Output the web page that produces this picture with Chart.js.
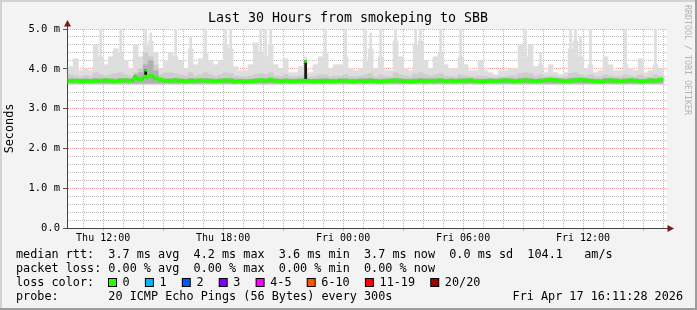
<!DOCTYPE html>
<html>
<head>
<meta charset="utf-8">
<title>Last 30 Hours from smokeping to SBB</title>
<script src="https://cdn.jsdelivr.net/npm/chart.js@4.4.1/dist/chart.umd.min.js"></script>
<style>
  html, body { margin: 0; padding: 0; background: #f3f3f3; }
  canvas { display: block; }
</style>
</head>
<body>
<canvas id="smokeChart" width="697" height="310"></canvas>
<script>
// time axis: hours since Thu 00:00, one bin per 15 minutes
const startHour = 10.25;
const binHours = 0.25;
const hourTicks = { 12: 'Thu 12:00', 18: 'Thu 18:00', 24: 'Fri 00:00', 30: 'Fri 06:00', 36: 'Fri 12:00' };
const yLabels = { 0: '0.0', 1: '1.0 m', 2: '2.0 m', 3: '3.0 m', 4: '4.0 m', 5: '5.0 m' };

// slowest ping of each bin (thin spikes), ms
const maxPing = [
  4.05, 4.25, 3.95, 4.0, 3.95, 4.6, 5.0, 4.1, 4.3, 4.5,
  5.0, 4.2, 4.0, 4.6, 4.3, 5.0, 4.9, 4.4, 4.0, 4.2,
  4.4, 5.0, 4.2, 4.0, 4.8, 4.1, 4.25, 5.0, 4.2, 4.1,
  4.2, 5.0, 5.0, 4.05, 3.95, 3.95, 4.1, 4.65, 5.0, 5.0,
  5.0, 4.1, 4.0, 4.25, 3.9, 3.9, 4.05, 4.3, 3.9, 4.1,
  4.3, 5.0, 4.0, 4.1, 4.1, 5.0, 4.0, 3.95, 4.0, 5.0,
  4.9, 4.0, 5.0, 3.95, 3.95, 5.0, 4.3, 4.0, 3.95, 5.0,
  5.0, 4.2, 4.0, 4.3, 5.0, 4.1, 4.0, 4.0, 5.0, 4.1,
  3.95, 3.95, 4.2, 3.95, 3.9, 3.85, 3.95, 3.95, 4.0, 4.0,
  4.6, 5.0, 4.6, 4.05, 4.4, 3.9, 4.1, 3.9, 3.85, 3.9,
  5.0, 5.0, 4.8, 4.0, 5.0, 3.9, 3.95, 4.3, 4.1, 3.95,
  3.95, 5.0, 4.0, 3.95, 4.25, 3.9, 3.95, 5.0, 4.0
];
// broad light smoke
const upperPing = [
  4.05, 4.25, 3.95, 4.0, 3.95, 4.6, 4.3, 4.1, 4.3, 4.5,
  4.4, 4.2, 4.0, 4.6, 4.3, 4.6, 4.7, 4.4, 4.0, 4.2,
  4.4, 4.3, 4.2, 4.0, 4.5, 4.1, 4.25, 4.4, 4.2, 4.1,
  4.2, 4.6, 4.5, 4.05, 3.95, 3.95, 4.1, 4.65, 4.4, 4.3,
  4.6, 4.1, 4.0, 4.25, 3.9, 3.9, 4.05, 4.0, 3.9, 4.1,
  4.3, 4.4, 4.0, 4.1, 4.1, 4.3, 4.0, 3.95, 4.0, 4.2,
  4.5, 4.0, 4.3, 3.95, 3.95, 4.7, 4.3, 4.0, 3.95, 4.6,
  4.7, 4.2, 4.0, 4.3, 4.4, 4.1, 4.0, 4.0, 4.3, 4.1,
  3.95, 3.95, 4.2, 3.95, 3.9, 3.85, 3.95, 3.95, 4.0, 4.0,
  4.6, 4.3, 4.6, 4.05, 4.1, 3.9, 4.1, 3.9, 3.85, 3.9,
  4.5, 4.7, 4.3, 4.0, 4.1, 3.9, 3.95, 4.3, 4.1, 3.95,
  3.95, 4.1, 4.0, 3.95, 4.25, 3.9, 3.95, 4.1, 4.0
];
// middle smoke
const midPing = [
  3.85, 3.82, 3.8, 3.83, 3.8, 3.9, 3.85, 3.82, 3.85, 3.88,
  3.9, 3.85, 3.82, 3.9, 4.0, 4.4, 4.3, 4.1, 3.85, 3.9,
  3.9, 3.88, 3.85, 3.82, 3.9, 3.82, 3.85, 3.9, 3.85, 3.82,
  3.85, 3.9, 3.88, 3.82, 3.8, 3.8, 3.82, 3.85, 3.88, 3.85,
  3.9, 3.82, 3.8, 3.85, 3.8, 3.8, 3.82, 3.85, 3.8, 3.82,
  3.85, 3.85, 3.8, 3.82, 3.82, 3.85, 3.8, 3.8, 3.82, 3.85,
  3.88, 3.8, 3.85, 3.8, 3.8, 3.9, 3.85, 3.82, 3.8, 3.88,
  3.9, 3.85, 3.82, 3.85, 3.88, 3.82, 3.8, 3.8, 3.85, 3.82,
  3.8, 3.8, 3.82, 3.8, 3.78, 3.78, 3.8, 3.8, 3.82, 3.82,
  3.88, 3.9, 3.88, 3.82, 3.85, 3.8, 3.82, 3.8, 3.78, 3.8,
  3.88, 3.9, 3.85, 3.82, 3.85, 3.8, 3.8, 3.85, 3.82, 3.8,
  3.8, 3.85, 3.82, 3.8, 3.85, 3.8, 3.8, 3.85, 3.82
];
// dark smoke next to the median
const darkPing = [
  3.75, 3.74, 3.74, 3.75, 3.74, 3.76, 3.75, 3.76, 3.75, 3.74,
  3.76, 3.76, 3.75, 3.82, 3.9, 4.1, 4.2, 3.95, 3.78, 3.75,
  3.75, 3.76, 3.75, 3.74, 3.76, 3.74, 3.75, 3.76, 3.75, 3.74,
  3.75, 3.76, 3.76, 3.74, 3.74, 3.73, 3.74, 3.75, 3.76, 3.75,
  3.77, 3.75, 3.74, 3.75, 3.74, 3.74, 3.75, 3.76, 3.74, 3.74,
  3.75, 3.75, 3.74, 3.74, 3.75, 3.75, 3.74, 3.74, 3.75, 3.75,
  3.76, 3.74, 3.74, 3.74, 3.75, 3.76, 3.75, 3.74, 3.74, 3.75,
  3.76, 3.75, 3.75, 3.75, 3.76, 3.74, 3.75, 3.74, 3.75, 3.75,
  3.76, 3.74, 3.74, 3.74, 3.75, 3.74, 3.75, 3.76, 3.75, 3.74,
  3.76, 3.77, 3.76, 3.74, 3.75, 3.76, 3.77, 3.76, 3.75, 3.74,
  3.76, 3.77, 3.77, 3.76, 3.75, 3.74, 3.74, 3.76, 3.76, 3.75,
  3.74, 3.75, 3.76, 3.75, 3.74, 3.74, 3.76, 3.75, 3.77
];
const medianRtt = [
  3.70, 3.70, 3.69, 3.70, 3.69, 3.70, 3.70, 3.71, 3.70, 3.69,
  3.70, 3.71, 3.70, 3.76, 3.74, 3.80, 3.82, 3.76, 3.72, 3.70,
  3.70, 3.71, 3.70, 3.69, 3.70, 3.70, 3.71, 3.70, 3.70, 3.69,
  3.70, 3.71, 3.70, 3.68, 3.69, 3.68, 3.69, 3.70, 3.71, 3.70,
  3.72, 3.70, 3.69, 3.70, 3.69, 3.69, 3.70, 3.70, 3.69, 3.69,
  3.69, 3.70, 3.69, 3.69, 3.70, 3.70, 3.69, 3.69, 3.70, 3.69,
  3.70, 3.69, 3.68, 3.69, 3.70, 3.71, 3.70, 3.69, 3.68, 3.69,
  3.70, 3.69, 3.70, 3.70, 3.71, 3.69, 3.70, 3.69, 3.70, 3.70,
  3.71, 3.69, 3.68, 3.69, 3.70, 3.69, 3.70, 3.71, 3.70, 3.69,
  3.70, 3.71, 3.70, 3.69, 3.70, 3.71, 3.72, 3.71, 3.70, 3.69,
  3.70, 3.71, 3.72, 3.71, 3.70, 3.69, 3.68, 3.70, 3.71, 3.70,
  3.69, 3.70, 3.71, 3.70, 3.68, 3.69, 3.71, 3.70, 3.72
];
// single 5-minute median peaks inside a bin
const peakBins = [13, 15, 47];
const peakValues = [3.84, 3.98, 4.2];
const smokeFloor = 3.62;

// legend texts
const titleText = 'Last 30 Hours from smokeping to SBB';
const rttLine = 'median rtt:  3.7 ms avg  4.2 ms max  3.6 ms min  3.7 ms now  0.0 ms sd  104.1   am/s';
const lossLine = 'packet loss: 0.00 % avg  0.00 % max  0.00 % min  0.00 % now';
const probeLine = 'probe:       20 ICMP Echo Pings (56 Bytes) every 300s';
const stampText = 'Fri Apr 17 16:11:28 2026';
const lossLabels = ['0', '1', '2', '3', '4-5', '6-10', '11-19', '20/20'];
const lossColors = ['#26ff00', '#00b8ff', '#0059ff', '#7e00ff', '#ff00ff', '#ff5500', '#ff0000', '#a10000'];

const binTimes = medianRtt.map((_, i) => startHour + binHours * i + binHours / 2);
const floating = (arr, lo) => arr.map((v, i) => ({ x: binTimes[i], y: [lo, v] }));

const mono = "'DejaVu Sans Mono', monospace";
const majorGrid = 'rgba(255, 90, 90, 0.55)';
const minorGrid = 'rgba(110, 110, 110, 0.45)';
const isWhole = v => Math.abs(v - Math.round(v)) < 1e-6;

const framePlugin = {
  id: 'frame',
  beforeDraw(chart) {
    const { ctx, chartArea: a } = chart;
    ctx.save();
    ctx.fillStyle = '#f3f3f3';
    ctx.fillRect(0, 0, 697, 310);
    ctx.fillStyle = '#d2d2d2';
    ctx.fillRect(0, 0, 697, 2);
    ctx.fillRect(0, 0, 2, 310);
    ctx.fillStyle = '#9c9c9c';
    ctx.fillRect(0, 308, 697, 2);
    ctx.fillRect(695, 0, 2, 310);
    ctx.fillStyle = '#ffffff';
    ctx.fillRect(a.left, a.top, a.right - a.left, a.bottom - a.top);
    ctx.restore();
  }
};

const decorPlugin = {
  id: 'decor',
  afterDraw(chart) {
    const { ctx, chartArea: a } = chart;
    ctx.save();
    // title
    ctx.font = '13.3px ' + mono;
    ctx.fillStyle = '#000';
    ctx.textAlign = 'center';
    ctx.textBaseline = 'middle';
    ctx.fillText(titleText, 348, 19);

    // axis extensions and arrows
    ctx.strokeStyle = '#444';
    ctx.lineWidth = 1;
    ctx.beginPath();
    ctx.moveTo(a.left + 0.5, a.top);
    ctx.lineTo(a.left + 0.5, 24);
    ctx.moveTo(a.right, a.bottom + 0.5);
    ctx.lineTo(669, a.bottom + 0.5);
    ctx.stroke();
    ctx.fillStyle = '#7a1a1a';
    ctx.beginPath();
    ctx.moveTo(a.left + 0.5, 20);
    ctx.lineTo(a.left - 3, 26.5);
    ctx.lineTo(a.left + 4, 26.5);
    ctx.closePath();
    ctx.fill();
    ctx.beginPath();
    ctx.moveTo(674, a.bottom + 0.5);
    ctx.lineTo(667.5, a.bottom - 3);
    ctx.lineTo(667.5, a.bottom + 4);
    ctx.closePath();
    ctx.fill();

    // legend lines
    ctx.font = '11.8px ' + mono;
    ctx.fillStyle = '#000';
    ctx.textBaseline = 'alphabetic';
    ctx.textAlign = 'left';
    ctx.fillText(rttLine, 16, 258);
    ctx.fillText(lossLine, 16, 272);
    ctx.fillText('loss color:', 16, 286);
    ctx.fillText(probeLine, 16, 300);
    let bx = 108;
    lossLabels.forEach((lab, i) => {
      ctx.fillStyle = '#000';
      ctx.fillRect(bx, 278, 9, 9);
      ctx.fillStyle = lossColors[i];
      ctx.fillRect(bx + 1, 279, 7, 7);
      ctx.fillStyle = '#000';
      ctx.fillText(lab, bx + 14.6, 286);
      bx += 14.6 + ctx.measureText(lab).width + 15.2;
    });
    ctx.textAlign = 'right';
    ctx.fillText(stampText, 683, 300);

    // side stamp
    ctx.font = '8.3px ' + mono;
    ctx.fillStyle = '#b4b4b4';
    ctx.textAlign = 'left';
    ctx.textBaseline = 'middle';
    ctx.translate(687, 5);
    ctx.rotate(Math.PI / 2);
    ctx.fillText('RRDTOOL / TOBI OETIKER', 0, 0);
    ctx.restore();
  }
};

new Chart(document.getElementById('smokeChart'), {
  type: 'bar',
  data: {
    datasets: [
      {
        label: 'peak tip',
        data: peakBins.map((b, i) => ({ x: binTimes[b], y: [peakValues[i] - 0.04, peakValues[i]] })),
        backgroundColor: '#26ff00',
        barThickness: 2,
        order: 0
      },
      {
        label: 'median band',
        data: medianRtt.map((m, i) => ({ x: binTimes[i], y: [m - 0.04, m + 0.04] })),
        backgroundColor: '#26ff00',
        order: 1
      },
      {
        label: 'median peak',
        data: peakBins.map((b, i) => ({ x: binTimes[b], y: [medianRtt[b], peakValues[i]] })),
        backgroundColor: '#111',
        barThickness: 2,
        order: 1.5
      },
      {
        type: 'line',
        label: 'median',
        data: medianRtt.map((m, i) => ({ x: binTimes[i], y: m })),
        borderColor: '#222',
        borderWidth: 1,
        pointRadius: 0,
        stepped: 'middle',
        order: 2
      },
      {
        label: 'dark smoke',
        data: floating(darkPing, smokeFloor + 0.02),
        backgroundColor: '#b0b0b0',
        order: 3
      },
      {
        label: 'mid smoke',
        data: floating(midPing, smokeFloor),
        backgroundColor: '#cdcdcd',
        order: 4
      },
      {
        label: 'light smoke',
        data: floating(upperPing, smokeFloor),
        backgroundColor: '#dedede',
        order: 5
      },
      {
        label: 'max ping',
        data: floating(maxPing, smokeFloor),
        backgroundColor: '#dedede',
        barThickness: 2,
        order: 6
      }
    ]
  },
  options: {
    responsive: false,
    animation: false,
    devicePixelRatio: 1,
    datasets: {
      bar: { grouped: false, barPercentage: 1, categoryPercentage: 1, borderWidth: 0 }
    },
    layout: { padding: { left: 0, right: 30, top: 29, bottom: 68 } },
    plugins: {
      legend: { display: false },
      tooltip: { enabled: false },
      title: { display: false }
    },
    scales: {
      x: {
        type: 'linear',
        min: 10.19,
        max: 40.2,
        offset: false,
        grid: {
          offset: false,
          drawOnChartArea: true,
          tickLength: 3,
          color: c => (c.tick && isWhole(c.tick.value / 3)) ? majorGrid : minorGrid,
          tickColor: c => (c.tick && isWhole(c.tick.value / 3)) ? majorGrid : 'rgba(0,0,0,0)'
        },
        border: { display: true, color: '#444', dash: [1, 1] },
        ticks: {
          stepSize: 1,
          maxTicksLimit: 100,
          includeBounds: false,
          autoSkip: false,
          maxRotation: 0,
          padding: 1,
          color: '#000',
          font: { family: mono, size: 10 },
          callback: v => hourTicks[v] || ''
        },
        afterFit(scale) { scale.height = 14; }
      },
      y: {
        min: 0,
        max: 5,
        grid: {
          tickLength: 4,
          color: c => (c.tick && isWhole(c.tick.value)) ? majorGrid : minorGrid,
          tickColor: c => (c.tick && isWhole(c.tick.value)) ? '#555' : 'rgba(0,0,0,0)'
        },
        border: { display: true, color: '#444', dash: [1, 1] },
        ticks: {
          stepSize: 0.2,
          maxTicksLimit: 100,
          autoSkip: false,
          padding: 3,
          color: '#000',
          font: { family: mono, size: 10.5 },
          callback: v => isWhole(v) ? yLabels[Math.round(v)] : ''
        },
        title: {
          display: true,
          text: 'Seconds',
          color: '#000',
          font: { family: mono, size: 11.8 },
          padding: { top: 3, bottom: 0 }
        },
        afterFit(scale) { scale.width = 67; }
      }
    }
  },
  plugins: [framePlugin, decorPlugin]
});
</script>
</body>
</html>
